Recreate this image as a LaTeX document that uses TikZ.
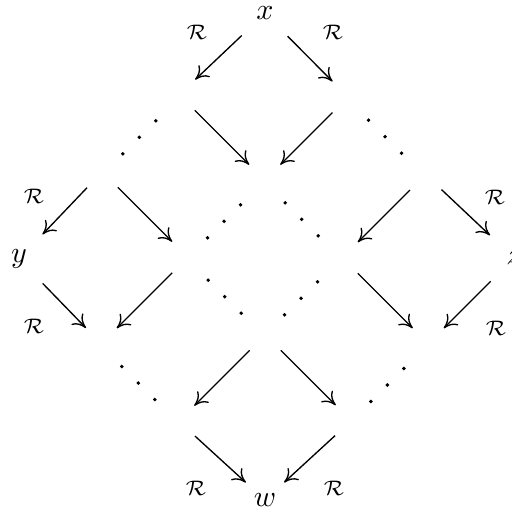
\documentclass[tikz,border=0pt]{standalone}
\usetikzlibrary{arrows.meta}
\begin{document}
\begin{tikzpicture}[x=0.3333pt,y=-0.3333pt,
  arr/.style={-{Computer Modern Rightarrow[length=4.3pt,width=5.4pt]}, line width=0.45pt},
  ee/.style={arr, shorten <=7.33pt, shorten >=7.33pt},
  lbl/.style={inner sep=0pt}]
\useasboundingbox (0,0) rectangle (511,517);
% corner labels
\node[lbl] (x) at (265,13.5) {$x$};
\node[lbl] (y) at (19,259) {$y$};
\node[lbl] (z) at (514,258) {$z$};
\node[lbl] (w) at (265,500) {$w$};
% hidden lattice points
\coordinate (A) at (179.25,94.75);
\coordinate (B) at (348,97);
\coordinate (C) at (264.75,180.25);
\coordinate (D) at (102.25,171.75);
\coordinate (E) at (425.5,174.5);
\coordinate (F) at (187.75,257.25);
\coordinate (G) at (342.25,257.75);
\coordinate (H) at (265.25,334.75);
\coordinate (I) at (101.25,343.75);
\coordinate (J) at (428.25,343.75);
\coordinate (K) at (178.75,421.25);
\coordinate (L) at (351.25,420.75);
% arrows
\draw[arr, shorten <=10.67pt, shorten >=7.33pt] (x.center) -- (A);
\draw[arr, shorten <=10.67pt, shorten >=7.33pt] (x.center) -- (B);
\draw[ee] (A) -- (C);
\draw[ee] (B) -- (C);
\draw[arr, shorten <=7.33pt, shorten >=11.33pt] (D) -- (y.center);
\draw[ee] (D) -- (F);
\draw[arr, shorten <=7.33pt, shorten >=11pt] (E) -- (z.center);
\draw[ee] (E) -- (G);
\draw[arr, shorten <=11.33pt, shorten >=7.33pt] (y.center) -- (I);
\draw[ee] (F) -- (I);
\draw[ee] (G) -- (J);
\draw[arr, shorten <=11pt, shorten >=7.33pt] (z.center) -- (J);
\draw[ee] (H) -- (K);
\draw[ee] (H) -- (L);
\draw[arr, shorten <=7.33pt, shorten >=8.67pt] (K) -- (w.center);
\draw[arr, shorten <=7.33pt, shorten >=8.67pt] (L) -- (w.center);
% R labels
\node[lbl] (r1) at (197,32) {$\scriptstyle\mathcal{R}$};
\node[lbl] (r2) at (333,32) {$\scriptstyle\mathcal{R}$};
\node[lbl] (r3) at (34,196) {$\scriptstyle\mathcal{R}$};
\node[lbl] (r4) at (34,326) {$\scriptstyle\mathcal{R}$};
\node[lbl] (r5) at (495,197) {$\scriptstyle\mathcal{R}$};
\node[lbl] (r6) at (496,328) {$\scriptstyle\mathcal{R}$};
\node[lbl] (r7) at (196,488) {$\scriptstyle\mathcal{R}$};
\node[lbl] (r8) at (334,488) {$\scriptstyle\mathcal{R}$};
% elided dots
\foreach \cx/\cy/\s in {139.3/137.3/-1, 385/136.7/1, 224/221.3/-1, 301.7/219.3/1,
                        224.7/296.7/1, 301/298.3/-1, 138.3/383/1, 387.3/385/-1}{
  \foreach \k in {-1,0,1}{
    \fill ({\cx+(\k)*16.5},{\cy+(\k)*(\s)*16.5}) circle[radius=0.65pt];
  }
}
\end{tikzpicture}
\end{document}
